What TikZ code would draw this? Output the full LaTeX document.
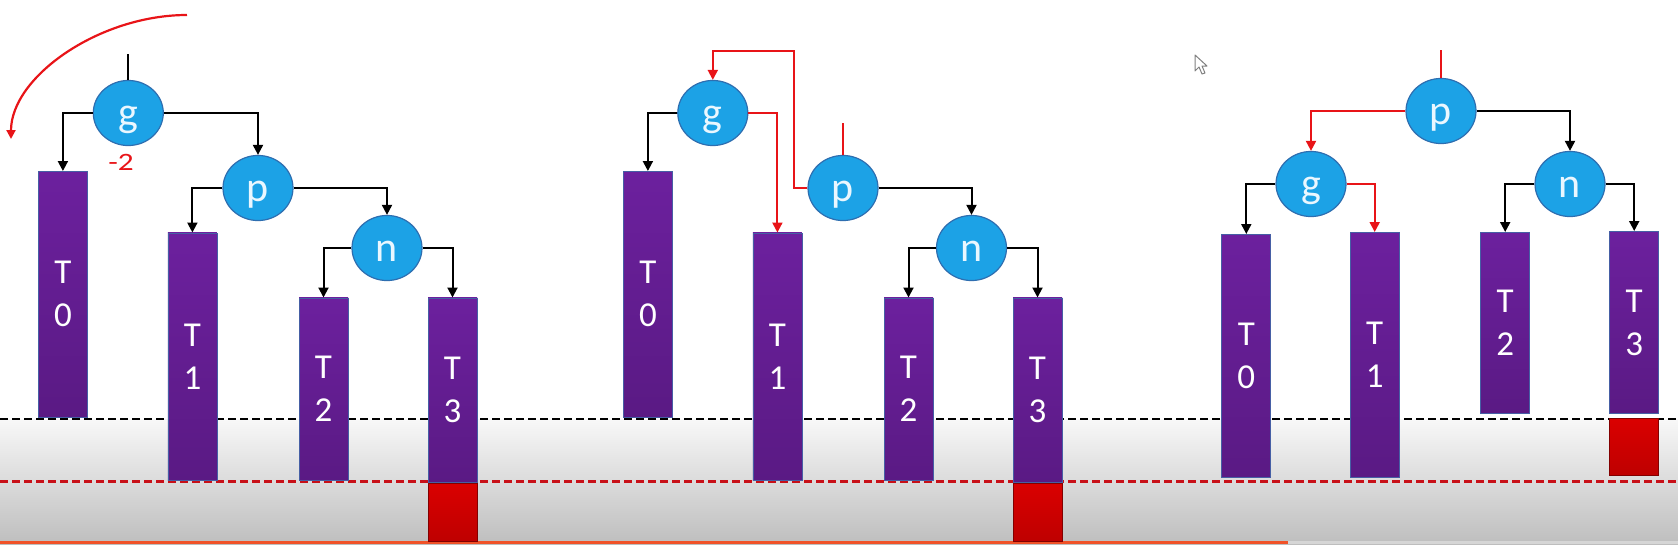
\documentclass[tikz,border=0pt]{standalone}
\usepackage{fontspec}
\setmainfont{Carlito}
\usetikzlibrary{arrows.meta,shapes.geometric}
\definecolor{barpurple}{RGB}{108,32,158}
\definecolor{barpurpled}{RGB}{90,26,132}
\definecolor{nodeblue}{RGB}{28,162,230}
\definecolor{nodeedge}{RGB}{46,110,176}
\definecolor{nodetext}{RGB}{234,247,255}
\definecolor{linered}{RGB}{232,20,24}
\definecolor{boxred}{RGB}{218,0,0}
\definecolor{boxredd}{RGB}{190,0,0}
\definecolor{dashred}{RGB}{200,16,24}
\definecolor{barorange}{RGB}{240,82,40}
\definecolor{bgtop}{RGB}{248,248,248}
\definecolor{bgbot}{RGB}{190,190,190}
\definecolor{bufgray}{RGB}{214,214,214}
\begin{document}
\begin{tikzpicture}[x=1pt,y=-1pt,
  ell/.style={ellipse, draw=nodeedge, line width=1.2pt, fill=nodeblue,
    minimum width=70pt, minimum height=56pt, inner sep=0pt, text=nodetext,
    font=\fontsize{42}{42}\selectfont, text height=36pt, text depth=10pt},
  bar/.style={rectangle, draw={rgb,255:red,70;green,95;blue,165}, line width=0.8pt,
    top color=barpurple, bottom color=barpurpled, minimum width=49pt, inner sep=0pt,
    anchor=north, text=white, align=center, font=\fontsize{35}{43}\selectfont},
  lossbox/.style={rectangle, draw={rgb,255:red,130;green,0;blue,0}, line width=0.8pt,
    top color=boxred, bottom color=boxredd, minimum width=49pt, inner sep=0pt, anchor=north},
  conn/.style={line width=2pt, -{Triangle[width=10pt,length=10pt]}},
  blk/.style={conn, draw=black},
  rd/.style={conn, draw=linered},
  lvl/.style={line width=2.5pt, dash pattern=on 8pt off 4pt},
]
\useasboundingbox (0,0) rectangle (1678,544);
% background
\fill[top color=bgtop, bottom color=bgbot] (0,419) rectangle (1678,544);
\draw[lvl, black] (0,419) -- (1678,419);
\draw[lvl, dashred] (0,481.5) -- (1678,481.5);
\fill[barorange] (0,540.5) rectangle (1288,544);
\fill[bufgray] (1288,541) rectangle (1678,544);

% ---------- panel 1 ----------
\node[bar, minimum height=245.5pt] (a0) at (62.9,171) {T\\0};
\node[bar, minimum height=247.5pt] (a1) at (192.4,232.5) {T\\1};
\node[bar, minimum height=182.5pt] (a2) at (323.5,297.5) {T\\2};
\node[bar, minimum height=184.5pt] (a3) at (452.5,297.5) {T\\3};
\node[lossbox, minimum height=58pt] (ax) at (452.5,483) {};
\node[ell] (g1) at (128.3,113) {g};
\node[ell] (p1) at (258,188) {p};
\node[ell] (n1) at (387,248) {n};
\coordinate (r1) at (128.3,54);
\draw[line width=2pt] (r1) -- (g1.north);
\draw[blk] (g1.west) -| (a0.north);
\draw[blk] (g1.east) -| (p1.north);
\draw[blk] (p1.west) -| (a1.north);
\draw[blk] (p1.east) -| (n1.north);
\draw[blk] (n1.west) -| (a2.north);
\draw[blk] (n1.east) -| (a3.north);
\node[text=linered, font=\fontsize{25}{25}\selectfont] (bal) at (121,162.5) {\scalebox{1.25}[1]{-2}};
\coordinate (arcs) at (187,15);
\coordinate (arce) at (11,139);
\draw[line width=2.2pt, draw=linered, -{Triangle[width=9pt,length=9pt]}]
  (arcs) .. controls (99,15) and (11,77) .. (arce);

% ---------- panel 2 ----------
\node[bar, minimum height=245.5pt] (b0) at (647.9,171) {T\\0};
\node[bar, minimum height=247.5pt] (b1) at (777.4,232.5) {T\\1};
\node[bar, minimum height=182.5pt] (b2) at (908.5,297.5) {T\\2};
\node[bar, minimum height=184.5pt] (b3) at (1037.5,297.5) {T\\3};
\node[lossbox, minimum height=58pt] (bx) at (1037.5,483) {};
\node[ell] (g2) at (712.8,113) {g};
\node[ell] (p2) at (843,188) {p};
\node[ell] (n2) at (971.5,248) {n};
\coordinate (r2) at (843,123);
\draw[line width=2pt, draw=linered] (r2) -- (p2.north);
\coordinate (k2) at (794,51);
\draw[rd] (p2.west) -| (k2) -| (g2.north);
\draw[blk] (g2.west) -| (b0.north);
\draw[rd] (g2.east) -| (b1.north);
\draw[blk] (p2.east) -| (n2.north);
\draw[blk] (n2.west) -| (b2.north);
\draw[blk] (n2.east) -| (b3.north);

% ---------- panel 3 ----------
\node[bar, minimum height=243pt] (c0) at (1246.3,234) {T\\0};
\node[bar, minimum height=245pt] (c1) at (1374.7,232) {T\\1};
\node[bar, minimum height=181pt] (c2) at (1505.2,232) {T\\2};
\node[bar, minimum height=182pt] (c3) at (1634.2,231) {T\\3};
\node[lossbox, minimum height=57pt] (cx) at (1634.2,418) {};
\node[ell] (p3) at (1441,111) {p};
\node[ell] (g3) at (1311,184) {g};
\node[ell] (n3) at (1570,184) {n};
\coordinate (r3) at (1441,50);
\draw[line width=2pt, draw=linered] (r3) -- (p3.north);
\draw[rd] (p3.west) -| (g3.north);
\draw[blk] (p3.east) -| (n3.north);
\draw[blk] (g3.west) -| (c0.north);
\draw[rd] (g3.east) -| (c1.north);
\draw[blk] (n3.west) -| (c2.north);
\draw[blk] (n3.east) -| (c3.north);

% mouse cursor
\draw[gray, line width=1pt, fill=white, line join=round]
  (1195,55) -- (1195,71) -- (1199,67) -- (1202,74) -- (1205,73) -- (1202,66) -- (1207,66) -- cycle;
\end{tikzpicture}
\end{document}
